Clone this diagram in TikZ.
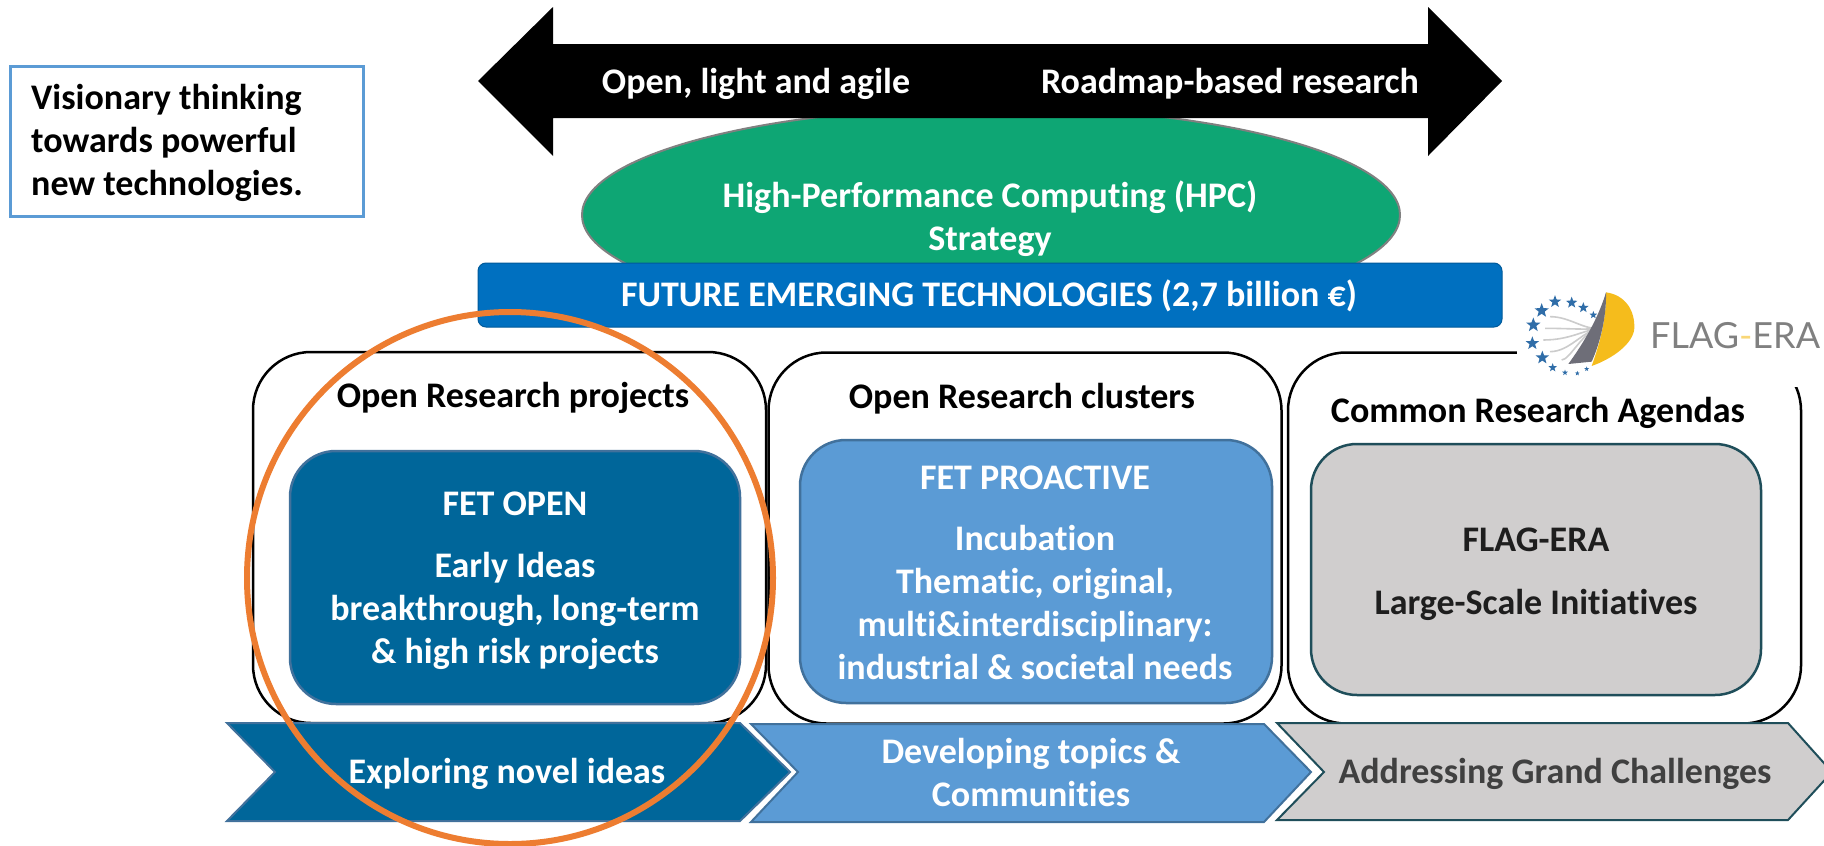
\documentclass[tikz,border=0pt]{standalone}
\usepackage{fontspec}
\setmainfont[Ligatures=NoCommon]{Carlito}
\newfontfamily\logofont{Lato}
\usetikzlibrary{shapes.geometric}
\definecolor{deepblue}{HTML}{00669A}
\definecolor{deepedge}{HTML}{41719C}
\definecolor{midblue}{HTML}{5B9BD5}
\definecolor{midedge}{HTML}{41719C}
\definecolor{softgrey}{HTML}{D0CECE}
\definecolor{greyedge}{HTML}{1F4E5A}
\definecolor{hpcgreen}{HTML}{0EA674}
\definecolor{barblue}{HTML}{0070C0}
\definecolor{ringorange}{HTML}{ED7D31}
\definecolor{darktext}{HTML}{404040}
\definecolor{inktext}{HTML}{1E1E1E}
\definecolor{starblue}{HTML}{2F6DA8}
\definecolor{sailyellow}{HTML}{F5BC1C}
\definecolor{sailgrey}{HTML}{6E6E78}
\tikzset{
  lbl/.style={anchor=base,inner sep=0pt,font=\bfseries\fontsize{36}{43}\selectfont,align=center},
  whitelbl/.style={lbl,text=white},
  colbox/.style={draw=black,line width=2.5pt,fill=white,rounded corners=58pt,inner sep=0pt,minimum width=513pt,minimum height=371pt},
  innerbox/.style={line width=2.5pt,rounded corners=46pt,inner sep=0pt},
  chev/.style={line width=2pt,line join=miter},
  logostar/.style={star,star points=5,star point ratio=2.4,fill=starblue,inner sep=0pt},
  fan/.style={line width=1.6pt,draw=black!20}
}
\begin{document}
\begin{tikzpicture}[x=1pt,y=-1pt]
\useasboundingbox (0,0) rectangle (1824,846);
\clip (0,0) rectangle (1824,846);
\fill[white] (0,0) rectangle (1824,846);

% side note
\node[draw=midblue,line width=3pt,fill=white,inner sep=0pt,minimum width=353pt,minimum height=150pt] (note) at (186.5,141) {};
\node[lbl,anchor=base west,align=left] (notetext) at (31,195) {Visionary thinking\\towards powerful\\new technologies.};

% ellipse behind the arrow and bar
\node[ellipse,draw=black!50,line width=2pt,fill=hpcgreen,inner sep=0pt,minimum width=818pt,minimum height=216pt] (hpc) at (991,215) {};

% double arrow
\fill[black] (478,81) -- (553,7) -- (553,44) -- (1428,44) -- (1428,7) -- (1502,81) -- (1428,156) -- (1428,118) -- (553,118) -- (553,156) -- cycle;
\node[whitelbl] (open) at (756,93) {Open, light and agile};
\node[whitelbl] (road) at (1230,93) {Roadmap-based research};
\node[whitelbl] (hpctext) at (990,250) {High-Performance Computing (HPC)\\Strategy};

% FET bar
\node[draw=black!20!barblue,line width=1pt,fill=barblue,rounded corners=8pt,inner sep=0pt,minimum width=1024pt,minimum height=64pt] (bar) at (990,295) {};
\node[whitelbl] (bartext) at (989,306) {FUTURE EMERGING TECHNOLOGIES (2,7 billion €)};

% columns
\node[colbox] (col1) at (509.5,537.5) {};
\node[colbox] (col2) at (1025,538) {};
\node[colbox] (col3) at (1544.5,538) {};

% logo patch
\fill[white] (1517,280) rectangle (1824,387);
\begin{scope}[shift={(1500,260)},x=0.3333pt,y=-0.3333pt]
  \foreach \a/\b in {150/170,135/205,130/240,150/275,185/300}{
    \draw[fan] (\a,\b) .. controls (210,\b) and (250,210) .. (300,205);
  }
  \foreach \px/\py/\sz [count=\i] in {165/125/13,215/128/12,250/143/11,280/165/8,125/152/15,100/195/15,97/250/14,127/293/14,158/323/9,195/338/6,232/340/5,260/327/5}{
    \node[logostar,minimum size=\sz pt] (star\i) at (\px,\py) {};
  }
  \fill[sailyellow] (318,97) .. controls (375,105) and (405,150) .. (403,205) .. controls (400,250) and (340,295) .. (275,318) .. controls (300,250) and (320,170) .. (318,97) -- cycle;
  \fill[sailgrey] (318,97) .. controls (320,170) and (300,250) .. (275,305) -- (205,312) .. controls (250,250) and (295,175) .. (318,97) -- cycle;
\end{scope}
\node[anchor=base west,inner sep=0pt,text=black!50,font=\logofont\fontsize{36}{40}\selectfont] (logotext) at (1650,348) {FLAG{\color{sailyellow!60!white}-}ERA};

% inner boxes
\node[innerbox,draw=deepedge,fill=deepblue,minimum width=450pt,minimum height=253pt] (fetopen) at (515,577.5) {};
\node[innerbox,draw=midedge,fill=midblue,minimum width=472pt,minimum height=263pt] (fetpro) at (1036,571.5) {};
\node[innerbox,draw=greyedge,fill=softgrey,minimum width=450pt,minimum height=251pt] (flag) at (1536,569.5) {};

% column titles
\node[lbl] (t1) at (513,407) {Open Research projects};
\node[lbl] (t2) at (1022,408) {Open Research clusters};
\node[lbl] (t3) at (1538,422) {Common Research Agendas};

% inner texts
\node[whitelbl] (fetopentext) at (515,663) {FET OPEN\\[19pt]Early Ideas\\breakthrough, long-term\\\& high risk projects};
\node[whitelbl] (fetprotext) at (1035,679) {FET PROACTIVE\\[18pt]Incubation\\Thematic, original,\\multi\&interdisciplinary:\\industrial \& societal needs};
\node[lbl,text=inktext] (flagtext) at (1536,614) {FLAG-ERA\\[20pt]Large-Scale Initiatives};

% chevrons
\path[chev,draw=deepedge,fill=deepblue] (227,723) -- (740,723) -- (790,772) -- (740,821) -- (227,821) -- (275,772) -- cycle;
\path[chev,draw=midedge,fill=midblue] (751,724) -- (1264,724) -- (1311,772) -- (1264,822) -- (751,822) -- (798,772) -- cycle;
\path[chev,draw=greyedge,fill=softgrey] (1277,723) -- (1788,723) -- (1832,772) -- (1788,820) -- (1277,820) -- (1324,772) -- cycle;
\node[whitelbl] (c1) at (507,783) {Exploring novel ideas};
\node[whitelbl] (c2) at (1031,806) {Developing topics \&\\Communities};
\node[lbl,text=darktext] (c3) at (1555,783) {Addressing Grand Challenges};

% orange ring
\node[ellipse,draw=ringorange,line width=6pt,inner sep=0pt,minimum width=526pt,minimum height=532pt] (ring) at (510,578) {};
\end{tikzpicture}
\end{document}
